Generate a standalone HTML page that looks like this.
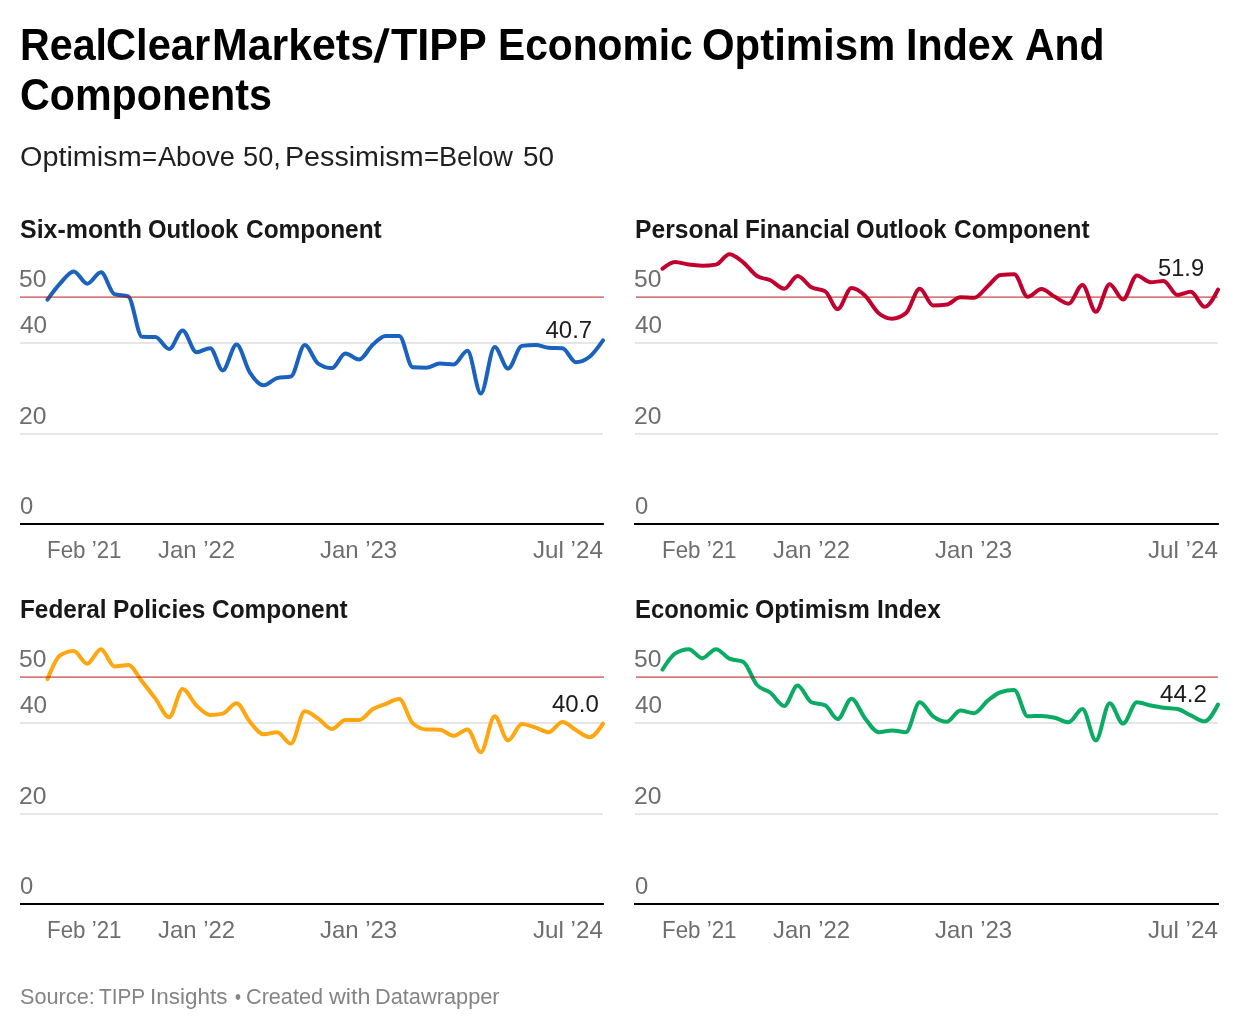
<!DOCTYPE html>
<html><head><meta charset="utf-8"><title>RealClearMarkets/TIPP Economic Optimism Index And Components</title>
<style>
html,body{margin:0;padding:0;background:#fff}
body{width:1240px;height:1030px;position:relative;overflow:hidden;font-family:"Liberation Sans",sans-serif}
svg{position:absolute;left:0;top:0}
#txt{position:absolute;left:0;top:0;width:1240px;height:1030px;will-change:transform}
.t{position:absolute;white-space:nowrap;line-height:1;transform-origin:0 0;display:block}
</style></head><body>
<svg width="1240" height="1030" viewBox="0 0 1240 1030">
<rect x="20" y="342" width="582.9" height="2" fill="#e6e6e6"/>
<rect x="20" y="433" width="582.9" height="2" fill="#e6e6e6"/>
<rect x="20" y="523" width="583.9" height="2" fill="#000"/>
<rect x="635" y="342" width="582.9" height="2" fill="#e6e6e6"/>
<rect x="635" y="433" width="582.9" height="2" fill="#e6e6e6"/>
<rect x="634" y="523" width="584.9" height="2" fill="#000"/>
<rect x="20" y="722" width="582.9" height="2" fill="#e6e6e6"/>
<rect x="20" y="813" width="582.9" height="2" fill="#e6e6e6"/>
<rect x="20" y="903" width="583.9" height="2" fill="#000"/>
<rect x="635" y="722" width="582.9" height="2" fill="#e6e6e6"/>
<rect x="635" y="813" width="582.9" height="2" fill="#e6e6e6"/>
<rect x="634" y="903" width="584.9" height="2" fill="#000"/>
<path d="M47.50,299.56C51.66,293.88,55.82,288.21,59.98,283.67C64.59,278.65,69.20,271.41,73.80,271.41C78.26,271.41,82.72,283.67,87.18,283.67C91.79,283.67,96.39,272.32,101.00,272.32C105.46,272.32,109.92,292.65,114.37,294.11C118.98,295.63,123.59,294.87,128.19,296.38C132.80,297.90,137.41,336.63,142.02,336.79C146.47,336.94,150.93,336.87,155.39,337.02C160.00,337.17,164.60,349.05,169.21,349.05C173.67,349.05,178.13,330.43,182.59,330.43C187.19,330.43,191.80,352.23,196.41,352.23C201.01,352.23,205.62,348.14,210.23,348.14C214.39,348.14,218.55,370.39,222.71,370.39C227.32,370.39,231.92,344.51,236.53,344.51C240.99,344.51,245.45,365.87,249.91,372.66C254.51,379.67,259.12,385.37,263.73,385.37C268.18,385.37,272.64,379.13,277.10,378.10C281.71,377.04,286.31,377.57,290.92,376.52C295.53,375.46,300.14,344.96,304.74,344.96C309.20,344.96,313.66,360.65,318.12,363.58C322.72,366.60,327.33,368.12,331.94,368.12C336.40,368.12,340.85,353.59,345.31,353.59C349.92,353.59,354.53,359.49,359.13,359.49C363.74,359.49,368.35,348.55,372.95,344.51C377.11,340.86,381.28,335.88,385.44,335.88C390.04,335.88,394.65,335.88,399.26,335.88C403.72,335.88,408.17,366.92,412.63,367.21C417.24,367.51,421.85,367.66,426.45,367.66C430.91,367.66,435.37,363.58,439.83,363.58C444.43,363.58,449.04,364.48,453.65,364.48C458.25,364.48,462.86,350.86,467.47,350.86C471.93,350.86,476.39,393.54,480.84,393.54C485.45,393.54,490.06,347.01,494.66,347.01C499.12,347.01,503.58,368.57,508.04,368.57C512.65,368.57,517.25,346.48,521.86,345.87C526.47,345.26,531.07,344.96,535.68,344.96C539.99,344.96,544.30,347.40,548.61,347.69C553.22,347.99,557.82,347.84,562.43,348.14C566.89,348.43,571.35,362.21,575.80,362.21C580.41,362.21,585.02,360.40,589.63,356.77C594.08,353.25,598.54,346.84,603.00,340.42" fill="none" stroke="#1a62bd" stroke-width="4" stroke-linecap="round" stroke-linejoin="round"/>
<path d="M662.50,268.69C666.66,265.29,670.82,261.88,674.98,261.88C679.59,261.88,684.20,263.96,688.80,264.60C693.26,265.23,697.72,265.74,702.18,265.74C706.79,265.74,711.39,265.36,716.00,264.60C720.46,263.87,724.92,254.16,729.37,254.16C733.98,254.16,738.59,258.70,743.19,262.33C747.80,265.97,752.41,272.98,757.02,275.95C761.47,278.83,765.93,278.20,770.39,280.27C775.00,282.40,779.60,288.67,784.21,288.67C788.67,288.67,793.13,275.95,797.59,275.95C802.19,275.95,806.80,284.73,811.41,287.30C816.01,289.88,820.62,288.67,825.23,291.39C829.39,293.85,833.55,309.10,837.71,309.10C842.32,309.10,846.92,287.99,851.53,287.99C855.99,287.99,860.45,291.40,864.91,295.48C869.51,299.69,874.12,309.43,878.73,313.18C883.18,316.81,887.64,318.63,892.10,318.63C896.71,318.63,901.31,316.81,905.92,313.18C910.53,309.55,915.14,288.67,919.74,288.67C924.20,288.67,928.66,305.46,933.12,305.46C937.72,305.46,942.33,305.16,946.94,304.56C951.40,303.97,955.85,297.29,960.31,297.29C964.92,297.29,969.53,297.75,974.13,297.75C978.74,297.75,983.35,289.92,987.95,285.94C992.11,282.35,996.28,275.59,1000.44,275.05C1005.04,274.44,1009.65,274.14,1014.26,274.14C1018.72,274.14,1023.17,296.84,1027.63,296.84C1032.24,296.84,1036.85,289.12,1041.45,289.12C1045.91,289.12,1050.37,294.45,1054.83,296.84C1059.43,299.31,1064.04,303.65,1068.65,303.65C1073.25,303.65,1077.86,285.03,1082.47,285.03C1086.93,285.03,1091.39,311.82,1095.84,311.82C1100.45,311.82,1105.06,284.13,1109.66,284.13C1114.12,284.13,1118.58,299.56,1123.04,299.56C1127.65,299.56,1132.25,275.50,1136.86,275.50C1141.47,275.50,1146.07,282.31,1150.68,282.31C1154.99,282.31,1159.30,280.95,1163.61,280.95C1168.22,280.95,1172.82,295.02,1177.43,295.02C1181.89,295.02,1186.35,291.84,1190.80,291.84C1195.41,291.84,1200.02,306.83,1204.63,306.83C1209.08,306.83,1213.54,298.20,1218.00,289.57" fill="none" stroke="#c20030" stroke-width="4" stroke-linecap="round" stroke-linejoin="round"/>
<path d="M47.50,679.11C51.66,668.67,55.82,658.23,59.98,655.50C64.59,652.47,69.20,650.96,73.80,650.96C78.26,650.96,82.72,663.67,87.18,663.67C91.79,663.67,96.39,649.14,101.00,649.14C105.46,649.14,109.92,666.40,114.37,666.40C118.98,666.40,123.59,665.03,128.19,665.03C132.80,665.03,137.41,675.68,142.02,681.38C146.47,686.89,150.93,692.75,155.39,698.63C160.00,704.70,164.60,717.24,169.21,717.24C173.67,717.24,178.13,689.10,182.59,689.10C187.19,689.10,191.80,701.13,196.41,705.44C201.01,709.75,205.62,714.97,210.23,714.97C214.39,714.97,218.55,714.52,222.71,713.61C227.32,712.61,231.92,703.17,236.53,703.17C240.99,703.17,245.45,716.65,249.91,721.78C254.51,727.09,259.12,734.27,263.73,734.27C268.18,734.27,272.64,732.23,277.10,732.23C281.71,732.23,286.31,743.58,290.92,743.58C295.53,743.58,300.14,711.34,304.74,711.34C309.20,711.34,313.66,715.72,318.12,718.61C322.72,721.59,327.33,729.05,331.94,729.05C336.40,729.05,340.85,719.97,345.31,719.97C349.92,719.97,354.53,719.97,359.13,719.97C363.74,719.97,368.35,711.76,372.95,709.07C377.11,706.64,381.28,705.67,385.44,704.08C390.04,702.32,394.65,699.08,399.26,699.08C403.72,699.08,408.17,719.05,412.63,723.15C417.24,727.38,421.85,729.35,426.45,729.50C430.91,729.65,435.37,729.58,439.83,729.73C444.43,729.89,449.04,735.86,453.65,735.86C458.25,735.86,462.86,729.50,467.47,729.50C471.93,729.50,476.39,752.20,480.84,752.20C485.45,752.20,490.06,716.34,494.66,716.34C499.12,716.34,503.58,740.40,508.04,740.40C512.65,740.40,517.25,724.05,521.86,724.05C526.47,724.05,531.07,726.27,535.68,727.69C539.99,729.02,544.30,732.23,548.61,732.23C553.22,732.23,557.82,722.01,562.43,722.01C566.89,722.01,571.35,727.46,575.80,729.96C580.41,732.54,585.02,737.22,589.63,737.22C594.08,737.22,598.54,730.41,603.00,723.60" fill="none" stroke="#ffa610" stroke-width="4" stroke-linecap="round" stroke-linejoin="round"/>
<path d="M662.50,669.57C666.66,663.00,670.82,656.42,674.98,653.68C679.59,650.66,684.20,649.14,688.80,649.14C693.26,649.14,697.72,658.22,702.18,658.22C706.79,658.22,711.39,649.14,716.00,649.14C720.46,649.14,724.92,656.63,729.37,658.68C733.98,660.80,738.59,659.74,743.19,661.86C747.80,663.97,752.41,679.86,757.02,685.01C761.47,689.99,765.93,689.33,770.39,692.73C775.00,696.24,779.60,705.89,784.21,705.89C788.67,705.89,793.13,685.46,797.59,685.46C802.19,685.46,806.80,700.14,811.41,702.26C816.01,704.38,820.62,703.32,825.23,705.44C829.39,707.35,833.55,719.06,837.71,719.06C842.32,719.06,846.92,698.63,851.53,698.63C855.99,698.63,860.45,712.61,864.91,718.15C869.51,723.88,874.12,732.23,878.73,732.23C883.18,732.23,887.64,730.41,892.10,730.41C896.71,730.41,901.31,732.23,905.92,732.23C910.53,732.23,915.14,702.26,919.74,702.26C924.20,702.26,928.66,713.09,933.12,716.34C937.72,719.69,942.33,721.78,946.94,721.78C951.40,721.78,955.85,710.43,960.31,710.43C964.92,710.43,969.53,713.16,974.13,713.16C978.74,713.16,983.35,704.04,987.95,700.45C992.11,697.20,996.28,693.64,1000.44,692.27C1005.04,690.76,1009.65,690.00,1014.26,690.00C1018.72,690.00,1023.17,716.34,1027.63,716.34C1032.24,716.34,1036.85,715.88,1041.45,715.88C1045.91,715.88,1050.37,716.67,1054.83,717.70C1059.43,718.76,1064.04,722.24,1068.65,722.24C1073.25,722.24,1077.86,709.07,1082.47,709.07C1086.93,709.07,1091.39,740.40,1095.84,740.40C1100.45,740.40,1105.06,703.17,1109.66,703.17C1114.12,703.17,1118.58,723.60,1123.04,723.60C1127.65,723.60,1132.25,702.26,1136.86,702.26C1141.47,702.26,1146.07,704.51,1150.68,705.44C1154.99,706.31,1159.30,707.11,1163.61,707.71C1168.22,708.35,1172.82,708.16,1177.43,709.07C1181.89,709.95,1186.35,713.41,1190.80,715.43C1195.41,717.51,1200.02,721.33,1204.63,721.33C1209.08,721.33,1213.54,712.93,1218.00,704.53" fill="none" stroke="#0aab63" stroke-width="4" stroke-linecap="round" stroke-linejoin="round"/>
<rect x="20" y="296.3" width="583.9" height="1.7" fill="rgba(180,10,10,0.55)"/>
<rect x="636" y="296.3" width="581.9" height="1.7" fill="rgba(180,10,10,0.55)"/>
<rect x="20" y="676.3" width="583.9" height="1.7" fill="rgba(180,10,10,0.55)"/>
<rect x="636" y="676.3" width="581.9" height="1.7" fill="rgba(180,10,10,0.55)"/>
<polygon points="384.3,28.2 389.7,28.2 378.8,62.7 373.4,62.7" fill="#000"/>
</svg>
<div id="txt">
<span class="t" style="left:19.72px;top:23px;font-size:44.5px;font-weight:bold;color:#000;transform:scaleX(0.9254)">Real</span>
<span class="t" style="left:106.46px;top:23px;font-size:44.5px;font-weight:bold;color:#000;transform:scaleX(0.9358)">Clear</span>
<span class="t" style="left:211.81px;top:23px;font-size:44.5px;font-weight:bold;color:#000;transform:scaleX(0.9629)">Markets</span>
<span class="t" style="left:391.02px;top:23px;font-size:44.5px;font-weight:bold;color:#000;transform:scaleX(0.9691)">TIPP</span>
<span class="t" style="left:498.0px;top:23px;font-size:44.5px;font-weight:bold;color:#000;transform:scaleX(0.9155)">Economic</span>
<span class="t" style="left:702.35px;top:23px;font-size:44.5px;font-weight:bold;color:#000;transform:scaleX(0.942)">Optimism</span>
<span class="t" style="left:906.22px;top:23px;font-size:44.5px;font-weight:bold;color:#000;transform:scaleX(0.9268)">Index</span>
<span class="t" style="left:1024.75px;top:23px;font-size:44.5px;font-weight:bold;color:#000;transform:scaleX(0.9191)">And</span>
<span class="t" style="left:20.38px;top:73px;font-size:44.5px;font-weight:bold;color:#000;transform:scaleX(0.9264)">Components</span>
<span class="t" style="left:20.23px;top:142px;font-size:28.4px;font-weight:normal;color:#1f1f1f;transform:scaleX(1.015)">Optimism</span>
<span class="t" style="left:142.39px;top:142px;font-size:28.4px;font-weight:normal;color:#1f1f1f;transform:scaleX(0.9091)">=</span>
<span class="t" style="left:157.5px;top:142px;font-size:28.4px;font-weight:normal;color:#1f1f1f;transform:scaleX(0.9558)">Above</span>
<span class="t" style="left:242.55px;top:142px;font-size:28.4px;font-weight:normal;color:#1f1f1f;transform:scaleX(0.958)">50,</span>
<span class="t" style="left:285.23px;top:142px;font-size:28.4px;font-weight:normal;color:#1f1f1f;transform:scaleX(1.0094)">Pessimism</span>
<span class="t" style="left:424.14px;top:142px;font-size:28.4px;font-weight:normal;color:#1f1f1f;transform:scaleX(0.9091)">=</span>
<span class="t" style="left:439.1px;top:142px;font-size:28.4px;font-weight:normal;color:#1f1f1f;transform:scaleX(0.9567)">Below</span>
<span class="t" style="left:522.52px;top:142px;font-size:28.4px;font-weight:normal;color:#1f1f1f;transform:scaleX(0.9829)">50</span>
<span class="t" style="left:19.89px;top:216px;font-size:26.3px;font-weight:bold;color:#181818;transform:scaleX(0.9481)">Six-month</span>
<span class="t" style="left:147.79px;top:216px;font-size:26.3px;font-weight:bold;color:#181818;transform:scaleX(0.9089)">Outlook</span>
<span class="t" style="left:245.57px;top:216px;font-size:26.3px;font-weight:bold;color:#181818;transform:scaleX(0.9292)">Component</span>
<span class="t" style="left:634.96px;top:216px;font-size:26.3px;font-weight:bold;color:#181818;transform:scaleX(0.9367)">Personal</span>
<span class="t" style="left:745.39px;top:216px;font-size:26.3px;font-weight:bold;color:#181818;transform:scaleX(0.9213)">Financial</span>
<span class="t" style="left:856.39px;top:216px;font-size:26.3px;font-weight:bold;color:#181818;transform:scaleX(0.913)">Outlook</span>
<span class="t" style="left:954.27px;top:216px;font-size:26.3px;font-weight:bold;color:#181818;transform:scaleX(0.9285)">Component</span>
<span class="t" style="left:20.28px;top:596px;font-size:26.3px;font-weight:bold;color:#181818;transform:scaleX(0.9256)">Federal</span>
<span class="t" style="left:113.17px;top:596px;font-size:26.3px;font-weight:bold;color:#181818;transform:scaleX(0.9295)">Policies</span>
<span class="t" style="left:212.27px;top:596px;font-size:26.3px;font-weight:bold;color:#181818;transform:scaleX(0.9292)">Component</span>
<span class="t" style="left:635.31px;top:596px;font-size:26.3px;font-weight:bold;color:#181818;transform:scaleX(0.9073)">Economic</span>
<span class="t" style="left:755.35px;top:596px;font-size:26.3px;font-weight:bold;color:#181818;transform:scaleX(0.9468)">Optimism</span>
<span class="t" style="left:876.57px;top:596px;font-size:26.3px;font-weight:bold;color:#181818;transform:scaleX(0.9288)">Index</span>
<span class="t" style="left:19.47px;top:267px;font-size:24px;font-weight:normal;color:#6e6e6e;transform:scaleX(1.0263)">50</span>
<span class="t" style="left:19.79px;top:313px;font-size:24px;font-weight:normal;color:#6e6e6e;transform:scaleX(1.0139)">40</span>
<span class="t" style="left:19.41px;top:404px;font-size:24px;font-weight:normal;color:#6e6e6e;transform:scaleX(1.0286)">20</span>
<span class="t" style="left:19.91px;top:494px;font-size:24px;font-weight:normal;color:#6e6e6e;transform:scaleX(0.9913)">0</span>
<span class="t" style="left:47.14px;top:538px;font-size:24px;font-weight:normal;color:#6e6e6e;transform:scaleX(0.9303)">Feb ’21</span>
<span class="t" style="left:158.0px;top:538px;font-size:24px;font-weight:normal;color:#6e6e6e;transform:scaleX(0.9954)">Jan ’22</span>
<span class="t" style="left:320.25px;top:538px;font-size:24px;font-weight:normal;color:#6e6e6e;transform:scaleX(0.9967)">Jan ’23</span>
<span class="t" style="left:532.75px;top:538px;font-size:24px;font-weight:normal;color:#6e6e6e;transform:scaleX(1.0073)">Jul ’24</span>
<span class="t" style="left:19.47px;top:647px;font-size:24px;font-weight:normal;color:#6e6e6e;transform:scaleX(1.0263)">50</span>
<span class="t" style="left:19.79px;top:693px;font-size:24px;font-weight:normal;color:#6e6e6e;transform:scaleX(1.0139)">40</span>
<span class="t" style="left:19.41px;top:784px;font-size:24px;font-weight:normal;color:#6e6e6e;transform:scaleX(1.0286)">20</span>
<span class="t" style="left:19.91px;top:874px;font-size:24px;font-weight:normal;color:#6e6e6e;transform:scaleX(0.9913)">0</span>
<span class="t" style="left:47.14px;top:918px;font-size:24px;font-weight:normal;color:#6e6e6e;transform:scaleX(0.9303)">Feb ’21</span>
<span class="t" style="left:158.0px;top:918px;font-size:24px;font-weight:normal;color:#6e6e6e;transform:scaleX(0.9954)">Jan ’22</span>
<span class="t" style="left:320.25px;top:918px;font-size:24px;font-weight:normal;color:#6e6e6e;transform:scaleX(0.9967)">Jan ’23</span>
<span class="t" style="left:532.75px;top:918px;font-size:24px;font-weight:normal;color:#6e6e6e;transform:scaleX(1.0073)">Jul ’24</span>
<span class="t" style="left:634.47px;top:267px;font-size:24px;font-weight:normal;color:#6e6e6e;transform:scaleX(1.0263)">50</span>
<span class="t" style="left:634.79px;top:313px;font-size:24px;font-weight:normal;color:#6e6e6e;transform:scaleX(1.0139)">40</span>
<span class="t" style="left:634.41px;top:404px;font-size:24px;font-weight:normal;color:#6e6e6e;transform:scaleX(1.0286)">20</span>
<span class="t" style="left:634.91px;top:494px;font-size:24px;font-weight:normal;color:#6e6e6e;transform:scaleX(0.9913)">0</span>
<span class="t" style="left:662.14px;top:538px;font-size:24px;font-weight:normal;color:#6e6e6e;transform:scaleX(0.9303)">Feb ’21</span>
<span class="t" style="left:773.0px;top:538px;font-size:24px;font-weight:normal;color:#6e6e6e;transform:scaleX(0.9954)">Jan ’22</span>
<span class="t" style="left:935.25px;top:538px;font-size:24px;font-weight:normal;color:#6e6e6e;transform:scaleX(0.9967)">Jan ’23</span>
<span class="t" style="left:1147.75px;top:538px;font-size:24px;font-weight:normal;color:#6e6e6e;transform:scaleX(1.0073)">Jul ’24</span>
<span class="t" style="left:634.47px;top:647px;font-size:24px;font-weight:normal;color:#6e6e6e;transform:scaleX(1.0263)">50</span>
<span class="t" style="left:634.79px;top:693px;font-size:24px;font-weight:normal;color:#6e6e6e;transform:scaleX(1.0139)">40</span>
<span class="t" style="left:634.41px;top:784px;font-size:24px;font-weight:normal;color:#6e6e6e;transform:scaleX(1.0286)">20</span>
<span class="t" style="left:634.91px;top:874px;font-size:24px;font-weight:normal;color:#6e6e6e;transform:scaleX(0.9913)">0</span>
<span class="t" style="left:662.14px;top:918px;font-size:24px;font-weight:normal;color:#6e6e6e;transform:scaleX(0.9303)">Feb ’21</span>
<span class="t" style="left:773.0px;top:918px;font-size:24px;font-weight:normal;color:#6e6e6e;transform:scaleX(0.9954)">Jan ’22</span>
<span class="t" style="left:935.25px;top:918px;font-size:24px;font-weight:normal;color:#6e6e6e;transform:scaleX(0.9967)">Jan ’23</span>
<span class="t" style="left:1147.75px;top:918px;font-size:24px;font-weight:normal;color:#6e6e6e;transform:scaleX(1.0073)">Jul ’24</span>
<span class="t" style="left:19.78px;top:986px;font-size:22.3px;font-weight:normal;color:#848484;transform:scaleX(0.9729)">Source:</span>
<span class="t" style="left:98.78px;top:986px;font-size:22.3px;font-weight:normal;color:#848484;transform:scaleX(0.9319)">TIPP</span>
<span class="t" style="left:150.49px;top:986px;font-size:22.3px;font-weight:normal;color:#848484;transform:scaleX(1.0068)">Insights</span>
<span class="t" style="left:234.53px;top:986px;font-size:22.3px;font-weight:normal;color:#848484;transform:scaleX(0.7667)">•</span>
<span class="t" style="left:246.29px;top:986px;font-size:22.3px;font-weight:normal;color:#848484;transform:scaleX(0.9707)">Created</span>
<span class="t" style="left:329.25px;top:986px;font-size:22.3px;font-weight:normal;color:#848484;transform:scaleX(1.0458)">with</span>
<span class="t" style="left:375.29px;top:986px;font-size:22.3px;font-weight:normal;color:#848484;transform:scaleX(0.9761)">Datawrapper</span>
<span class="t" style="left:545.5px;top:318px;font-size:24px;font-weight:normal;color:#1c1c1c;transform:scaleX(1.0)">40.7</span>
<span class="t" style="left:1158.21px;top:256px;font-size:24px;font-weight:normal;color:#1c1c1c;transform:scaleX(0.9865)">51.9</span>
<span class="t" style="left:551.5px;top:692px;font-size:24px;font-weight:normal;color:#1c1c1c;transform:scaleX(1.0011)">40.0</span>
<span class="t" style="left:1159.7px;top:682px;font-size:24px;font-weight:normal;color:#1c1c1c;transform:scaleX(1.0044)">44.2</span>
</div>
</body></html>
